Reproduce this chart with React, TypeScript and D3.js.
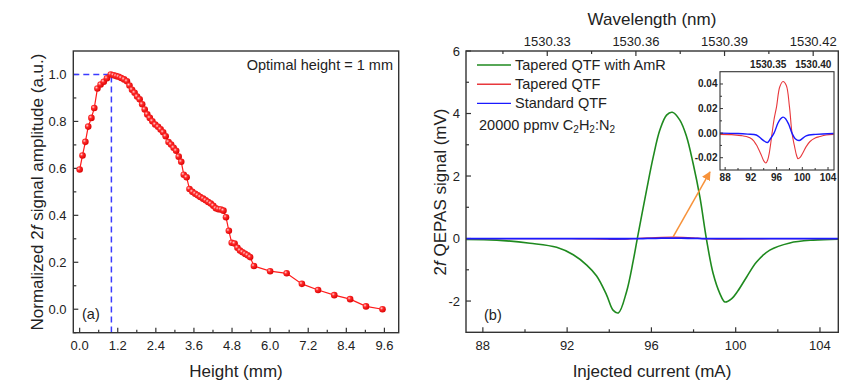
import React from 'react';
import * as d3 from 'd3';

// (a) normalized 2f amplitude vs height
const heightMm = [
	0.0, 0.09, 0.18, 0.27, 0.37, 0.46, 0.56, 0.66, 0.76, 0.86, 0.98,
	1.07, 1.15, 1.23, 1.31, 1.4, 1.49, 1.57, 1.65, 1.73, 1.81, 1.89, 1.97, 2.05, 2.13,
	2.21, 2.29, 2.38, 2.47, 2.55, 2.63, 2.71, 2.8, 2.88, 2.96, 3.04, 3.12, 3.2, 3.28,
	3.37, 3.46, 3.55, 3.64, 3.72, 3.8, 3.89, 3.97, 4.05, 4.13, 4.21, 4.29, 4.37, 4.45,
	4.53, 4.61, 4.7, 4.79, 4.88, 4.97, 5.05, 5.13, 5.21, 5.29, 5.37, 5.49,
	6.0, 6.52, 7.0, 7.51, 8.02, 8.52, 9.02, 9.54,
];
const normAmp = [
	0.595, 0.655, 0.713, 0.778, 0.815, 0.857, 0.94, 0.957, 0.969, 0.984, 1.0,
	0.997, 0.993, 0.99, 0.985, 0.979, 0.971, 0.953, 0.935, 0.922, 0.906, 0.894, 0.873, 0.851, 0.83,
	0.815, 0.801, 0.787, 0.777, 0.766, 0.754, 0.737, 0.712, 0.702, 0.688, 0.675, 0.65, 0.628, 0.573,
	0.562, 0.512, 0.5, 0.492, 0.485, 0.478, 0.471, 0.464, 0.457, 0.45, 0.441, 0.43, 0.426, 0.425,
	0.42, 0.392, 0.334, 0.283, 0.28, 0.262, 0.25, 0.243, 0.236, 0.23, 0.222, 0.184,
	0.162, 0.153, 0.108, 0.082, 0.06, 0.043, 0.012, 0.0,
];
const optimalHeight = 1.0;

// (b) 2f QEPAS signal vs injected current
const currentAmR = [
	87.2, 88.66, 90.24, 91.5, 92.29, 92.93, 93.4, 93.87, 94.19, 94.43, 94.82, 95.14,
	95.33, 95.77, 96.09, 96.4, 96.72, 96.99, 97.35, 97.67, 97.98, 98.3, 98.62, 98.93, 99.25,
	99.49, 99.8, 100.1, 100.52, 100.99, 101.62, 102.57, 103.68, 104.87,
];
const signalAmR = [
	-0.03, -0.05, -0.15, -0.28, -0.52, -0.85, -1.2, -1.8, -2.3, -2.38, -1.7, -0.7,
	0.0, 1.55, 2.62, 3.47, 3.95, 4.04, 3.79, 3.26, 2.4, 1.33, -0.05, -1.12, -1.76,
	-2.03, -1.93, -1.68, -1.23, -0.75, -0.37, -0.14, -0.05, -0.02,
];
const currentTapered = [
	87.2, 89.0, 90.5, 91.3, 92.2, 92.85, 93.6, 94.0, 94.33, 94.6, 94.87, 95.3, 95.6, 96.0,
	96.5, 97.0, 97.5, 98.0, 98.4, 98.8, 99.1, 99.34, 99.7, 100.1, 100.6, 101.2, 102.0,
	102.7, 103.7, 104.87,
];
const signalTapered = [
	-0.001, -0.0012, -0.002, -0.0028, -0.005, -0.0095, -0.0176, -0.0225, -0.0243, -0.022,
	-0.016, 0.0, 0.011, 0.0216, 0.0378, 0.042, 0.039, 0.0216, 0.0, -0.011, -0.018, -0.0208,
	-0.0195, -0.016, -0.011, -0.0068, -0.004, -0.0028, -0.0015, -0.001,
];
const currentStandard = [
	87.2, 90.0, 91.5, 92.85, 93.6, 94.2, 94.6, 95.0, 95.6, 96.2, 96.6, 97.0, 97.4, 97.9,
	98.4, 98.9, 99.5, 100.0, 100.6, 102.1, 104.87,
];
const signalStandard = [
	0.0, -0.0003, -0.0008, -0.0015, -0.0045, -0.0068, -0.0076, -0.005, 0.0, 0.008, 0.0115,
	0.013, 0.0118, 0.007, 0.0, -0.0045, -0.006, -0.0045, -0.0022, -0.001, -0.0003,
];
const seriesNames = ['Tapered QTF with AmR', 'Tapered QTF', 'Standard QTF'];
const arrowFrom = [97.03, 0.05];
const arrowTo = [98.78, 2.13];

// ticks
const heightTicks = [0, 1.2, 2.4, 3.6, 4.8, 6.0, 7.2, 8.4, 9.6];
const heightMinor = [0.6, 1.8, 3.0, 4.2, 5.4, 6.6, 7.8, 9.0];
const ampTicks = [0, 0.2, 0.4, 0.6, 0.8, 1.0];
const ampMinor = [-0.1, 0.1, 0.3, 0.5, 0.7, 0.9];
const currentTicks = [88, 92, 96, 100, 104];
const currentMinor = [90, 94, 98, 102];
const signalTicks = [-2, 0, 2, 4, 6];
const signalMinor = [-1, 1, 3, 5];
const wavelengthTicks = [1530.33, 1530.36, 1530.39, 1530.42];
const wavelengthMinor = [1530.315, 1530.345, 1530.375, 1530.405];
const insetYTicks = [-0.02, 0, 0.02, 0.04];
const insetYMinor = [-0.01, 0.01, 0.03];
const insetWavelengthTicks = [1530.35, 1530.4];

const FONT = 'Arial, "Liberation Sans", sans-serif';
const AXIS = '#333';
const TXT = '#222';
const GREEN = '#1f8a1f';
const RED = '#e8383c';
const BLUE = '#1a1aff';

const zip = (xs: number[], ys: number[]) => xs.map((x, i) => [x, ys[i]] as [number, number]);

export default function App() {
	// panel (a)
	const xH = d3.scaleLinear().domain([-0.2, 10.05]).range([73.3, 398.7]);
	const yA = d3.scaleLinear().domain([-0.1, 1.1]).range([332.7, 51]);
	// panel (b)
	const xC = d3.scaleLinear().domain([87.2, 104.87]).range([466, 838.3]);
	const yS = d3.scaleLinear().domain([-3, 6]).range([332.3, 51]);
	const xW = d3.scaleLinear().domain([1530.3025, 1530.4285]).range([466, 838.3]);
	// inset
	const xI = d3.scaleLinear().domain([87.2, 104.93]).range([720, 834]);
	const yI = d3.scaleLinear().domain([-0.03, 0.05]).range([170, 71.7]);
	const xIW = d3.scaleLinear().domain([1530.2966, 1530.4229]).range([720, 834]);

	const lineA = d3.line<[number, number]>().x((d) => xH(d[0])).y((d) => yA(d[1]));
	const lineB = d3
		.line<[number, number]>()
		.x((d) => xC(d[0]))
		.y((d) => yS(d[1]))
		.curve(d3.curveCatmullRom.alpha(0.5));
	const lineI = d3
		.line<[number, number]>()
		.x((d) => xI(d[0]))
		.y((d) => yI(d[1]))
		.curve(d3.curveCatmullRom.alpha(0.5));

	const ptsA = zip(heightMm, normAmp);
	const amr = zip(currentAmR, signalAmR);
	const tap = zip(currentTapered, signalTapered);
	const std = zip(currentStandard, signalStandard);

	const [ax0, ax1] = xH.range();
	const [ay0, ay1] = yA.range();
	const [bx0, bx1] = xC.range();
	const [by0, by1] = yS.range();
	const [ix0, ix1] = xI.range();
	const [iy0, iy1] = yI.range();

	const legendColors = [GREEN, RED, BLUE];

	return (
		<svg
			width={865}
			height={392}
			style={{ position: 'absolute', left: 0, top: 0, background: '#fff', fontFamily: FONT }}
		>
			<defs>
				<radialGradient id="ball" cx="0.35" cy="0.35" r="0.7">
					<stop offset="0" stopColor="#ffd0d0" />
					<stop offset="0.35" stopColor="#ff2a2a" />
					<stop offset="1" stopColor="#d80000" />
				</radialGradient>
				<marker id="arrow" viewBox="0 0 10 10" refX="9" refY="5" markerWidth="6" markerHeight="6" orient="auto">
					<path d="M0,0 L10,5 L0,10 z" fill="#f7923a" />
				</marker>
			</defs>

			{/* ---------- panel (a) ---------- */}
			<g>
				{heightTicks.map((t) => (
					<g key={'hx' + t}>
						<line x1={xH(t)} x2={xH(t)} y1={ay0} y2={ay0 - 5} stroke={AXIS} strokeWidth={1.2} />
						<text x={xH(t)} y={350} fontSize={13} fill={TXT} textAnchor="middle">
							{t.toFixed(1)}
						</text>
					</g>
				))}
				{heightMinor.map((t) => (
					<line key={'hm' + t} x1={xH(t)} x2={xH(t)} y1={ay0} y2={ay0 - 3} stroke={AXIS} strokeWidth={1.2} />
				))}
				{ampTicks.map((t) => (
					<g key={'ay' + t}>
						<line x1={ax0} x2={ax0 + 5} y1={yA(t)} y2={yA(t)} stroke={AXIS} strokeWidth={1.2} />
						<text x={66.5} y={yA(t) + 4.6} fontSize={13} fill={TXT} textAnchor="end">
							{t.toFixed(1)}
						</text>
					</g>
				))}
				{ampMinor.map((t) => (
					<line key={'am' + t} x1={ax0} x2={ax0 + 3} y1={yA(t)} y2={yA(t)} stroke={AXIS} strokeWidth={1.2} />
				))}

				<path
					d={`M${ax0},${yA(optimalHeight)}H${xH(optimalHeight)}V${ay0}`}
					fill="none"
					stroke="#3b3bff"
					strokeWidth={1.5}
					strokeDasharray="6,4"
				/>
				<path d={lineA(ptsA) || ''} fill="none" stroke="#ff1a1a" strokeWidth={1.2} />
				{ptsA.map((d, i) => (
					<circle key={i} cx={xH(d[0])} cy={yA(d[1])} r={3.3} fill="url(#ball)" />
				))}

				<rect x={ax0} y={ay1} width={ax1 - ax0} height={ay0 - ay1} fill="none" stroke={AXIS} strokeWidth={1.4} />

				<text x={393} y={70} fontSize={14.5} fill={TXT} textAnchor="end">
					Optimal height = 1 mm
				</text>
				<text x={82} y={319} fontSize={14.5} fill={TXT}>
					(a)
				</text>
				<text x={236} y={376.5} fontSize={17} fill={TXT} textAnchor="middle">
					Height (mm)
				</text>
				<text transform="translate(43,192) rotate(-90)" fontSize={17} fill={TXT} textAnchor="middle">
					Normalized 2<tspan fontStyle="italic">f</tspan> signal amplitude (a.u.)
				</text>
			</g>

			{/* ---------- panel (b) ---------- */}
			<g>
				{currentTicks.map((t) => (
					<g key={'cx' + t}>
						<line x1={xC(t)} x2={xC(t)} y1={by0} y2={by0 - 5} stroke={AXIS} strokeWidth={1.2} />
						<text x={xC(t)} y={350} fontSize={13} fill={TXT} textAnchor="middle">
							{t}
						</text>
					</g>
				))}
				{currentMinor.map((t) => (
					<line key={'cm' + t} x1={xC(t)} x2={xC(t)} y1={by0} y2={by0 - 3} stroke={AXIS} strokeWidth={1.2} />
				))}
				{signalTicks.map((t) => (
					<g key={'sy' + t}>
						<line x1={bx0} x2={bx0 + 5} y1={yS(t)} y2={yS(t)} stroke={AXIS} strokeWidth={1.2} />
						<text x={460} y={yS(t) + 4.6} fontSize={13} fill={TXT} textAnchor="end">
							{t}
						</text>
					</g>
				))}
				{signalMinor.map((t) => (
					<line key={'sm' + t} x1={bx0} x2={bx0 + 3} y1={yS(t)} y2={yS(t)} stroke={AXIS} strokeWidth={1.2} />
				))}
				{wavelengthTicks.map((t) => (
					<g key={'wx' + t}>
						<line x1={xW(t)} x2={xW(t)} y1={by1} y2={by1 + 5} stroke={AXIS} strokeWidth={1.2} />
						<text x={xW(t)} y={46} fontSize={13} fill={TXT} textAnchor="middle">
							{t.toFixed(2)}
						</text>
					</g>
				))}
				{wavelengthMinor.map((t) => (
					<line key={'wm' + t} x1={xW(t)} x2={xW(t)} y1={by1} y2={by1 + 3} stroke={AXIS} strokeWidth={1.2} />
				))}

				<path d={lineB(amr) || ''} fill="none" stroke={GREEN} strokeWidth={1.6} />
				<path d={lineB(tap) || ''} fill="none" stroke={RED} strokeWidth={1.3} />
				<path d={lineB(std) || ''} fill="none" stroke={BLUE} strokeWidth={1.8} />

				<line
					x1={xC(arrowFrom[0])}
					y1={yS(arrowFrom[1])}
					x2={xC(arrowTo[0])}
					y2={yS(arrowTo[1])}
					stroke="#f7923a"
					strokeWidth={1.5}
					markerEnd="url(#arrow)"
				/>

				<rect x={bx0} y={by1} width={bx1 - bx0} height={by0 - by1} fill="none" stroke={AXIS} strokeWidth={1.4} />

				{seriesNames.map((name, i) => (
					<g key={name}>
						<line x1={477} x2={511} y1={65 + i * 19.2} y2={65 + i * 19.2} stroke={legendColors[i]} strokeWidth={1.4} />
						<text x={515} y={70 + i * 19.2} fontSize={14.5} fill={TXT}>
							{name}
						</text>
					</g>
				))}
				<text x={479} y={130} fontSize={14.5} fill={TXT}>
					20000 ppmv C
					<tspan fontSize={10} dy={3}>2</tspan>
					<tspan dy={-3}>H</tspan>
					<tspan fontSize={10} dy={3}>2</tspan>
					<tspan dy={-3}>:N</tspan>
					<tspan fontSize={10} dy={3}>2</tspan>
				</text>
				<text x={484} y={320} fontSize={14.5} fill={TXT}>
					(b)
				</text>
				<text x={652} y={376.5} fontSize={17} fill={TXT} textAnchor="middle">
					Injected current (mA)
				</text>
				<text x={652} y={25} fontSize={17} fill={TXT} textAnchor="middle">
					Wavelength (nm)
				</text>
				<text transform="translate(446,192) rotate(-90)" fontSize={17} fill={TXT} textAnchor="middle">
					2<tspan fontStyle="italic">f</tspan> QEPAS signal (mV)
				</text>
			</g>

			{/* ---------- inset ---------- */}
			<g>
				<rect x={ix0} y={iy1} width={ix1 - ix0} height={iy0 - iy1} fill="#fff" />
				<path d={lineI(tap) || ''} fill="none" stroke={RED} strokeWidth={1.1} />
				<path d={lineI(std) || ''} fill="none" stroke={BLUE} strokeWidth={1.4} />
				{currentTicks.map((t) => (
					<g key={'ix' + t}>
						<line x1={xI(t)} x2={xI(t)} y1={iy0} y2={iy0 - 3} stroke={AXIS} strokeWidth={1} />
						<text x={xI(t)} y={181} fontSize={10} fontWeight="bold" fill={TXT} textAnchor="middle">
							{t}
						</text>
					</g>
				))}
				{currentMinor.map((t) => (
					<line key={'im' + t} x1={xI(t)} x2={xI(t)} y1={iy0} y2={iy0 - 2} stroke={AXIS} strokeWidth={1} />
				))}
				{insetYTicks.map((t) => (
					<g key={'iy' + t}>
						<line x1={ix0} x2={ix0 + 3} y1={yI(t)} y2={yI(t)} stroke={AXIS} strokeWidth={1} />
						<text x={717.5} y={yI(t) + 3.5} fontSize={10} fontWeight="bold" fill={TXT} textAnchor="end">
							{t.toFixed(2)}
						</text>
					</g>
				))}
				{insetYMinor.map((t) => (
					<line key={'iym' + t} x1={ix0} x2={ix0 + 2} y1={yI(t)} y2={yI(t)} stroke={AXIS} strokeWidth={1} />
				))}
				{insetWavelengthTicks.map((t) => (
					<text key={'iw' + t} x={xIW(t)} y={67.5} fontSize={10} fontWeight="bold" fill={TXT} textAnchor="middle">
						{t.toFixed(2)}
					</text>
				))}
				<rect x={ix0} y={iy1} width={ix1 - ix0} height={iy0 - iy1} fill="none" stroke={AXIS} strokeWidth={1.1} />
			</g>
		</svg>
	);
}
